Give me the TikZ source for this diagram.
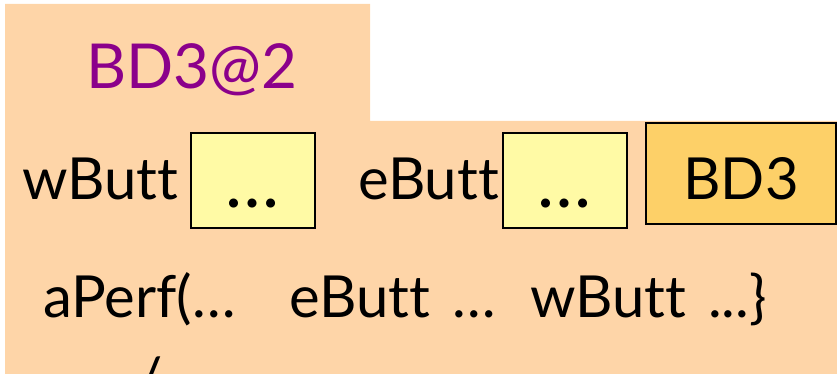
\documentclass[tikz,border=0pt]{standalone}
\usepackage{fontspec}
\setmainfont[Ligatures=NoCommon]{Lato}
\usepackage{tikz}
\usetikzlibrary{positioning}
\definecolor{peach}{RGB}{254,213,168}
\definecolor{slotyellow}{RGB}{255,250,165}
\definecolor{objorange}{RGB}{253,208,104}
\definecolor{titlepurple}{RGB}{139,0,139}
\tikzstyle{LABEL} = [anchor=base west, inner sep=0pt, font=\fontsize{58}{60}\selectfont]
\tikzstyle{SLOT} = [rectangle, draw=black, line width=2pt, fill=slotyellow, inner sep=0pt, minimum width=124pt, minimum height=95pt, text height=74pt, text depth=21pt, font=\fontsize{72}{74}\selectfont]
\tikzstyle{OBJECT} = [rectangle, draw=black, line width=2pt, fill=objorange, inner sep=0pt, minimum width=190pt, minimum height=101pt, text height=76pt, text depth=25pt, font=\fontsize{58}{60}\selectfont]

\begin{document}
\begin{tikzpicture}[x=1pt, y=-1pt]
% Frame
\useasboundingbox (0,0) rectangle (837,374);
\fill [peach] (5,4) -- (370,4) -- (370,121) -- (837,121) -- (837,374) -- (5,374) -- cycle;
% Place nodes
\node [LABEL, text=titlepurple, font=\fontsize{62}{64}\selectfont] (title) at (86,89) {BD3@2};
\node [LABEL] (w_label) at (22,199) {wButt};
\node [SLOT] (w_slot) at (252.5,180.5) {…};
\node [LABEL] (e_label) at (358,199) {eButt};
\node [SLOT] (e_slot) at (564.5,180.5) {…};
\node [OBJECT] (bd3) at (741,173.5) {BD3};
\node [LABEL] (method) at (43,317) {aPerf(…\hspace{54pt}eButt\hspace{22pt}…\hspace{34pt}wButt\hspace{22pt}...\}};
\node [LABEL, anchor=north] (cut) at (150,357) {/};
\end{tikzpicture}
\end{document}
